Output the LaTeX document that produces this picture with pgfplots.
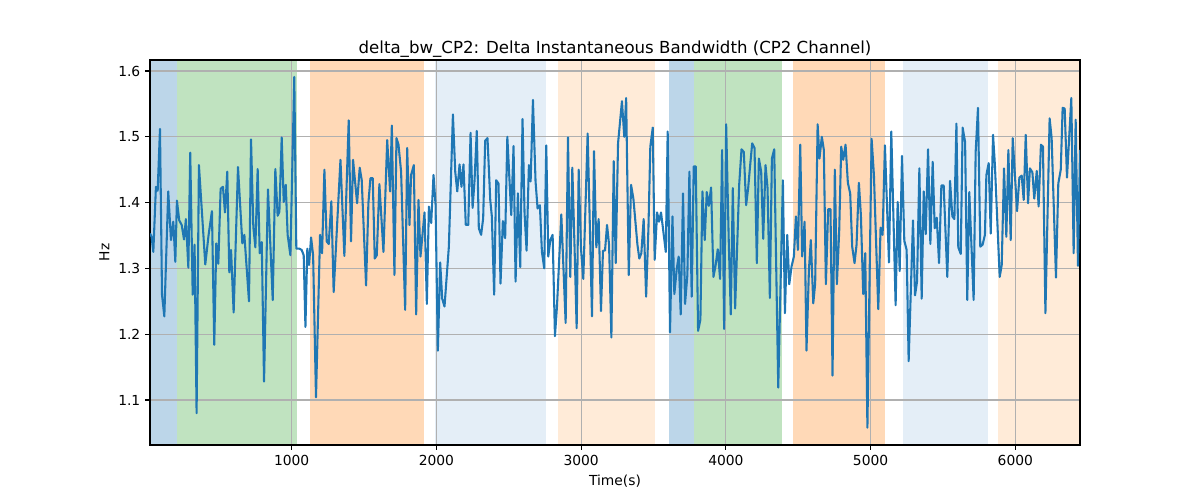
\documentclass[border=0pt]{standalone}
\usepackage{fontspec}
\setmainfont{DejaVu Sans}
\usepackage{pgfplots}
\pgfplotsset{compat=1.18}
\definecolor{tabblue}{RGB}{31,119,180}
\definecolor{spanblue}{RGB}{188,214,233}
\definecolor{spangreen}{RGB}{192,227,192}
\definecolor{spanorange}{RGB}{255,217,183}
\definecolor{spanlblue}{RGB}{228,238,247}
\definecolor{spanlorange}{RGB}{255,235,216}
\definecolor{gridgray}{RGB}{176,176,176}
\begin{document}
\begin{tikzpicture}
\begin{axis}[
  set layers,
  at={(0,0)}, anchor=south west,
  scale only axis, width=9.3in, height=3.85in,
  xmin=21, xmax=6447, ymin=1.0316, ymax=1.6167,
  xtick={1000,2000,3000,4000,5000,6000},
  ytick={1.1,1.2,1.3,1.4,1.5,1.6},
  /pgf/number format/assume math mode=true,
  /pgf/number format/1000 sep={},
  yticklabel style={/pgf/number format/fixed,/pgf/number format/precision=1,/pgf/number format/fixed zerofill},
  tick label style={font=\fontsize{10}{12}\selectfont},
  label style={font=\fontsize{10}{12}\selectfont},
  tick align=outside, major tick length=3.5pt,
  tick style={black, line width=0.8pt},
  xtick pos=bottom, ytick pos=left,
  axis line style={black, line width=0.8pt},
  grid=major,
  major grid style={gridgray, line width=0.8pt},
  title={delta\_bw\_CP2: Delta Instantaneous Bandwidth (CP2 Channel)},
  title style={font=\fontsize{12}{14.4}\selectfont, at={(axis description cs:0.5,1.021)}, anchor=base, yshift=-7.2pt},
  xlabel={Time(s)},
  ylabel={Hz},
  xlabel style={at={(axis description cs:0.5,-0.1057)}, anchor=base},
  ylabel style={at={(axis description cs:-0.0438,0.5)}, anchor=base},
]
\addplot[fill=spanblue, draw=none, on layer=axis background] coordinates {(21,1.0316) (211,1.0316) (211,1.6167) (21,1.6167)};
\addplot[fill=spangreen, draw=none, on layer=axis background] coordinates {(211,1.0316) (1035,1.0316) (1035,1.6167) (211,1.6167)};
\addplot[fill=spanorange, draw=none, on layer=axis background] coordinates {(1129,1.0316) (1911,1.0316) (1911,1.6167) (1129,1.6167)};
\addplot[fill=spanlblue, draw=none, on layer=axis background] coordinates {(1987,1.0316) (2759,1.0316) (2759,1.6167) (1987,1.6167)};
\addplot[fill=spanlorange, draw=none, on layer=axis background] coordinates {(2838,1.0316) (3508,1.0316) (3508,1.6167) (2838,1.6167)};
\addplot[fill=spanblue, draw=none, on layer=axis background] coordinates {(3605,1.0316) (3778,1.0316) (3778,1.6167) (3605,1.6167)};
\addplot[fill=spangreen, draw=none, on layer=axis background] coordinates {(3778,1.0316) (4385,1.0316) (4385,1.6167) (3778,1.6167)};
\addplot[fill=spanorange, draw=none, on layer=axis background] coordinates {(4465,1.0316) (5099,1.0316) (5099,1.6167) (4465,1.6167)};
\addplot[fill=spanlblue, draw=none, on layer=axis background] coordinates {(5224,1.0316) (5809,1.0316) (5809,1.6167) (5224,1.6167)};
\addplot[fill=spanlorange, draw=none, on layer=axis background] coordinates {(5883,1.0316) (6447,1.0316) (6447,1.6167) (5883,1.6167)};
\addplot[tabblue, line width=1.5pt, line join=round, mark=none] table {
21 1.353
32 1.348
44 1.325
62 1.424
74 1.418
90 1.512
104 1.260
120 1.227
147 1.417
166 1.343
182 1.371
196 1.310
207 1.403
223 1.373
240 1.366
256 1.344
269 1.375
286 1.301
299 1.476
316 1.260
329 1.336
343 1.080
359 1.457
403 1.306
426 1.351
449 1.387
465 1.184
479 1.338
493 1.307
509 1.421
525 1.424
539 1.385
555 1.447
569 1.294
581 1.328
599 1.233
629 1.454
659 1.338
673 1.351
705 1.250
719 1.496
735 1.363
749 1.332
765 1.451
779 1.323
793 1.340
809 1.128
836 1.420
869 1.252
887 1.451
903 1.380
915 1.386
931 1.499
945 1.401
959 1.427
972 1.351
991 1.320
1018 1.591
1032 1.330
1053 1.330
1069 1.328
1083 1.320
1095 1.211
1108 1.330
1120 1.305
1134 1.347
1148 1.320
1168 1.104
1196 1.351
1210 1.323
1226 1.450
1242 1.341
1256 1.337
1274 1.402
1290 1.264
1337 1.465
1364 1.319
1394 1.525
1410 1.341
1424 1.465
1452 1.399
1470 1.453
1484 1.434
1514 1.274
1530 1.399
1544 1.437
1560 1.437
1574 1.315
1588 1.320
1606 1.428
1634 1.325
1660 1.495
1680 1.417
1692 1.517
1710 1.290
1724 1.498
1738 1.488
1756 1.447
1784 1.237
1798 1.483
1814 1.366
1825 1.442
1844 1.457
1860 1.230
1876 1.404
1890 1.318
1918 1.385
1934 1.246
1948 1.394
1964 1.369
1980 1.442
1994 1.397
2010 1.175
2026 1.309
2040 1.254
2056 1.242
2086 1.333
2114 1.534
2130 1.447
2144 1.417
2160 1.458
2173 1.424
2187 1.458
2203 1.366
2220 1.366
2236 1.506
2250 1.392
2263 1.432
2279 1.509
2293 1.361
2309 1.351
2323 1.376
2337 1.494
2353 1.498
2372 1.404
2383 1.379
2399 1.260
2413 1.434
2429 1.429
2443 1.277
2459 1.372
2475 1.346
2490 1.500
2517 1.381
2533 1.486
2547 1.280
2563 1.414
2579 1.302
2595 1.527
2609 1.384
2623 1.327
2639 1.457
2651 1.432
2667 1.556
2685 1.432
2699 1.391
2715 1.396
2729 1.325
2745 1.300
2759 1.487
2773 1.318
2787 1.343
2803 1.351
2819 1.197
2833 1.242
2863 1.382
2893 1.217
2909 1.499
2925 1.287
2939 1.453
2955 1.328
2969 1.209
2983 1.450
2999 1.330
3015 1.284
3045 1.505
3075 1.227
3089 1.478
3105 1.332
3121 1.375
3137 1.235
3151 1.327
3165 1.327
3179 1.366
3193 1.336
3209 1.195
3225 1.463
3239 1.308
3255 1.490
3282 1.554
3298 1.500
3311 1.559
3329 1.290
3345 1.427
3361 1.406
3377 1.366
3389 1.336
3402 1.315
3416 1.323
3432 1.375
3449 1.257
3465 1.361
3478 1.485
3495 1.514
3508 1.313
3525 1.385
3538 1.371
3552 1.385
3568 1.356
3585 1.325
3598 1.508
3614 1.203
3631 1.379
3644 1.261
3661 1.300
3674 1.318
3688 1.230
3704 1.414
3718 1.246
3734 1.290
3748 1.447
3764 1.257
3778 1.455
3792 1.455
3808 1.205
3824 1.222
3838 1.417
3854 1.343
3868 1.416
3882 1.395
3898 1.423
3914 1.287
3928 1.303
3944 1.329
3960 1.284
3974 1.480
3988 1.208
4002 1.519
4020 1.341
4034 1.230
4048 1.422
4064 1.239
4092 1.427
4108 1.481
4124 1.477
4140 1.396
4154 1.422
4168 1.457
4182 1.490
4198 1.483
4214 1.308
4228 1.467
4244 1.447
4258 1.345
4274 1.457
4288 1.422
4304 1.255
4318 1.467
4334 1.481
4362 1.119
4394 1.434
4408 1.232
4424 1.351
4438 1.276
4454 1.303
4470 1.318
4484 1.379
4498 1.328
4514 1.488
4527 1.318
4544 1.371
4557 1.175
4574 1.298
4587 1.343
4604 1.247
4617 1.277
4634 1.519
4647 1.467
4663 1.500
4677 1.480
4691 1.276
4707 1.390
4723 1.390
4737 1.137
4753 1.450
4767 1.276
4783 1.356
4797 1.485
4811 1.465
4827 1.488
4843 1.430
4859 1.414
4873 1.333
4889 1.308
4903 1.336
4919 1.430
4933 1.381
4949 1.261
4963 1.323
4978 1.058
5007 1.497
5023 1.442
5053 1.238
5069 1.362
5083 1.351
5099 1.487
5127 1.309
5143 1.508
5173 1.244
5187 1.401
5201 1.296
5217 1.471
5233 1.342
5249 1.328
5263 1.159
5293 1.373
5307 1.259
5321 1.280
5337 1.452
5353 1.254
5367 1.417
5381 1.352
5397 1.481
5413 1.337
5429 1.462
5443 1.361
5457 1.377
5473 1.308
5489 1.426
5505 1.426
5530 1.287
5549 1.433
5565 1.379
5579 1.375
5593 1.520
5606 1.332
5623 1.322
5636 1.514
5653 1.492
5668 1.252
5682 1.416
5712 1.252
5726 1.477
5742 1.544
5758 1.333
5774 1.336
5790 1.351
5800 1.442
5816 1.460
5830 1.353
5846 1.503
5859 1.457
5892 1.287
5906 1.305
5922 1.452
5938 1.348
5952 1.480
5968 1.343
5982 1.498
6012 1.387
6028 1.438
6044 1.441
6058 1.404
6072 1.503
6088 1.399
6101 1.452
6118 1.446
6131 1.406
6148 1.448
6161 1.394
6177 1.488
6191 1.485
6208 1.232
6237 1.528
6251 1.498
6281 1.286
6297 1.429
6314 1.450
6327 1.544
6341 1.543
6357 1.438
6387 1.559
6403 1.323
6417 1.526
6433 1.304
6447 1.480
};
\end{axis}
\path (-1.5in,-0.55in) rectangle (10.5in,4.45in);
\end{tikzpicture}
\end{document}
